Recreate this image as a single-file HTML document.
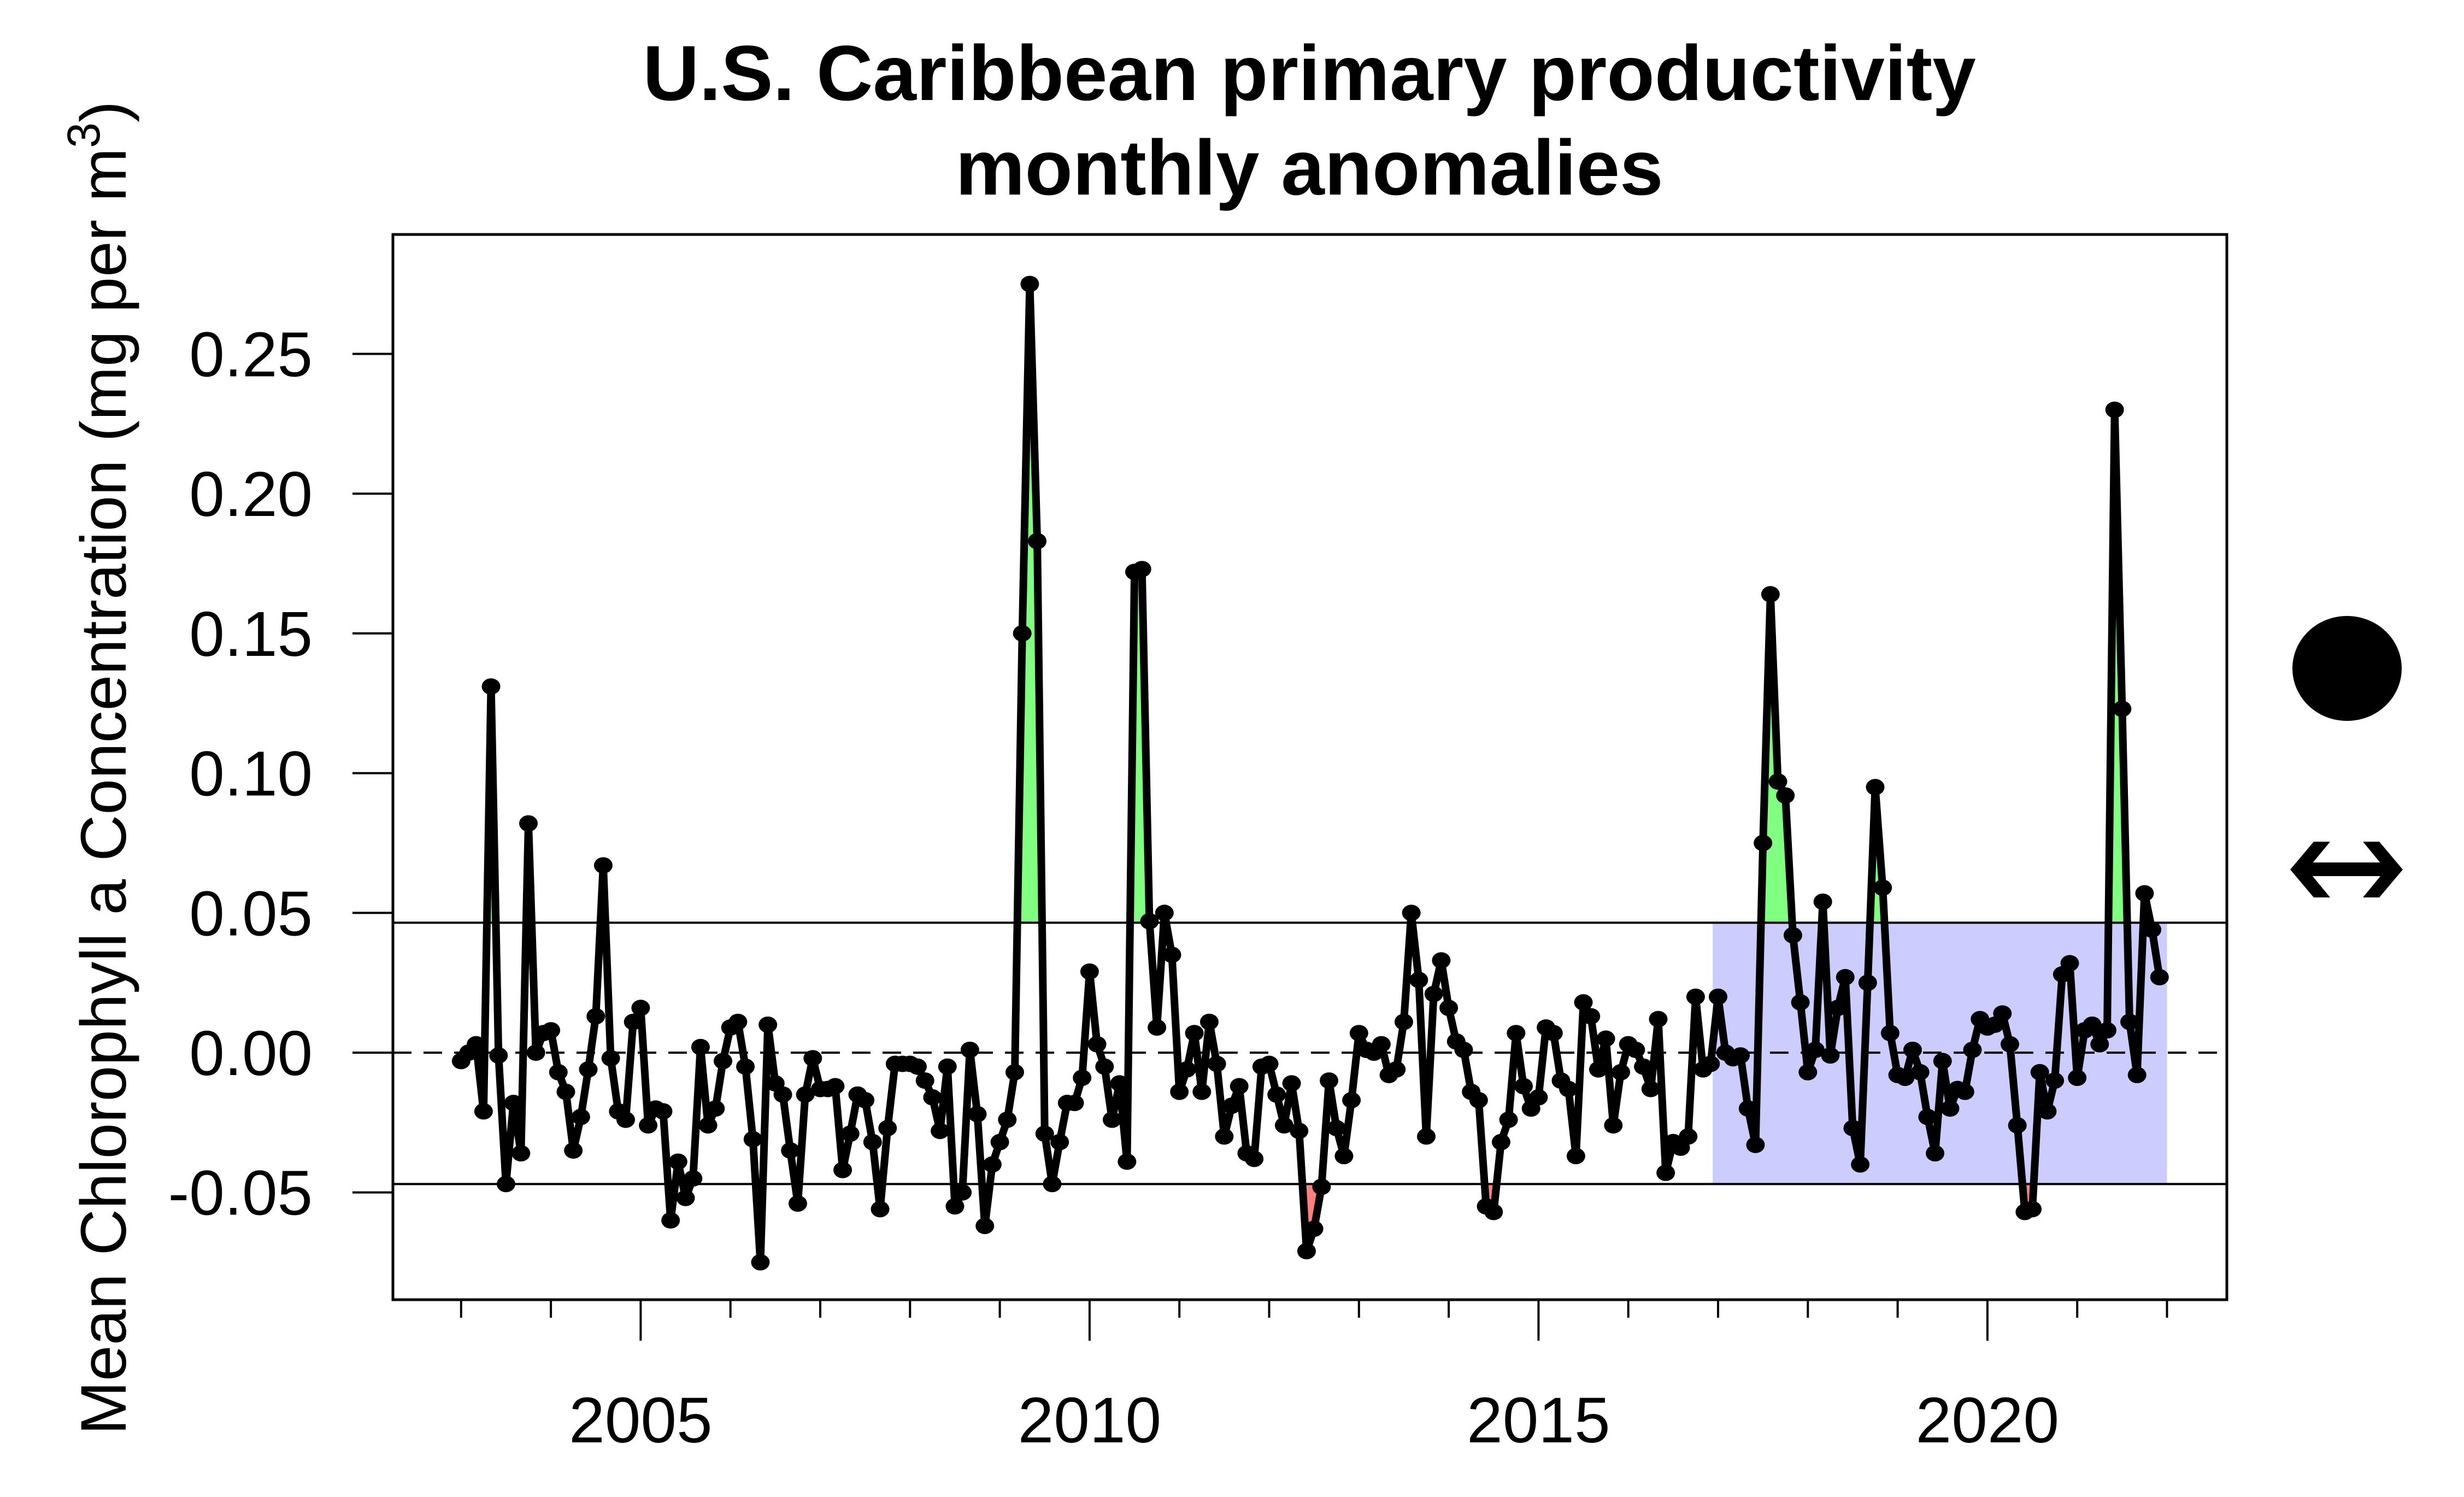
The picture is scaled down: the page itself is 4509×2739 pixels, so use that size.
<!DOCTYPE html>
<html><head><meta charset="utf-8"><style>
html,body{margin:0;padding:0;background:#fff}
svg{display:block}
text{font-family:"Liberation Sans",Arial,sans-serif}
</style></head><body>
<svg id="chart" width="4509" height="2739" viewBox="0 0 4509 2739" xmlns="http://www.w3.org/2000/svg">
<g>
<text x="2396" y="183" font-size="143" font-weight="bold" text-anchor="middle">U.S. Caribbean primary productivity</text>
<text x="2396" y="356" font-size="143" font-weight="bold" text-anchor="middle">monthly anomalies</text>
</g>
<text transform="translate(230,1405) rotate(-90)" font-size="118" text-anchor="middle">Mean Chlorophyll a Concentration (mg per m<tspan font-size="84" dy="-48">3</tspan><tspan dy="48">)</tspan></text>
<g id="layer"></g>
<ellipse cx="4295" cy="1223" rx="100" ry="96" fill="#000"/>
<g fill="#000">
<rect x="4215" y="1578" width="160" height="25"/>
<polygon points="4191,1591 4234,1540 4264,1540 4222,1591 4264,1642 4234,1642"/>
<polygon points="4397,1591 4354,1540 4324,1540 4366,1591 4324,1642 4354,1642"/>
</g>
</svg>
<script>
const years = [2005, 2010, 2015, 2020];
const yTicks = [-0.05, 0, 0.05, 0.10, 0.15, 0.20, 0.25];
const yTickLabels = ["-0.05", "0.00", "0.05", "0.10", "0.15", "0.20", "0.25"];
const startYear = 2003;
const upperThreshold = 0.0465;
const lowerThreshold = -0.047;
const highlightStart = 2016.94;
const highlightEnd = 2022.0;
const anomalies = [
-0.003,0,0.003,-0.021,0.131,-0.001,-0.047,-0.018,-0.036,0.082,0.000,0.007,
0.008,-0.007,-0.014,-0.035,-0.023,-0.006,0.013,0.067,-0.002,-0.021,-0.024,0.011,
0.016,-0.026,-0.020,-0.021,-0.060,-0.039,-0.052,-0.045,0.002,-0.026,-0.020,-0.003,
0.009,0.011,-0.005,-0.031,-0.075,0.010,-0.011,-0.015,-0.035,-0.054,-0.015,-0.002,
-0.013,-0.013,-0.012,-0.042,-0.029,-0.015,-0.017,-0.032,-0.056,-0.027,-0.004,-0.004,
-0.004,-0.005,-0.010,-0.016,-0.028,-0.005,-0.055,-0.050,0.001,-0.022,-0.062,-0.040,
-0.032,-0.024,-0.007,0.150,0.275,
0.183,-0.029,-0.047,-0.032,-0.018,-0.018,-0.009,0.029,0.003,-0.005,
-0.024,-0.011,-0.039,0.172,0.173,0.047,0.009,0.050,0.035,-0.014,
-0.006,0.007,-0.014,0.011,-0.004,-0.030,-0.019,-0.012,-0.036,-0.038,
-0.005,-0.004,-0.015,-0.026,-0.011,-0.028,-0.071,-0.063,-0.048,-0.010,
-0.027,-0.037,-0.017,0.007,0.001,0.000,0.003,-0.008,-0.006,0.011,
0.050,0.026,-0.030,0.021,0.033,0.016,0.004,0.001,-0.014,-0.017,
-0.055,-0.057,-0.032,-0.024,0.007,-0.012,-0.020,-0.016,0.009,0.007,
-0.010,-0.013,-0.037,0.018,0.013,-0.006,0.005,-0.026,-0.007,0.003,
0.001,-0.005,-0.013,0.012,-0.043,
-0.032,-0.034,-0.030,0.020,-0.006,-0.004,0.020,0.000,-0.002,-0.001,
-0.020,-0.033,0.075,0.164,0.097,0.092,0.042,0.018,-0.007,0.001,
0.054,-0.001,0.016,0.027,-0.027,-0.040,0.025,0.095,0.059,0.007,
-0.008,-0.009,0.001,-0.007,-0.023,-0.036,-0.003,-0.020,-0.013,-0.014,
0.001,0.012,0.009,0.010,0.014,0.003,-0.026,-0.057,-0.056,-0.007,
-0.021,-0.010,0.028,0.032,-0.009,0.008,0.010,0.003,0.008,0.230,
0.123,0.011,-0.008,0.057,0.044,0.027
];
const NS = "http://www.w3.org/2000/svg";
const L = 719, R = 4075, T = 429, B = 2378;
function xs(t){ return 843.8 + (t - 2003) * 164.3; }
function ys(v){ return 1926 - v * 5114; }
function mk(tag, attrs, parent){ const e = document.createElementNS(NS, tag); for (const k in attrs) e.setAttribute(k, attrs[k]); parent.appendChild(e); return e; }
const layer = document.getElementById('layer');
const yu = ys(upperThreshold), yl = ys(lowerThreshold);

const hl = mk('rect', {x: xs(highlightStart), y: yu, width: xs(highlightEnd) - xs(highlightStart), height: yl - yu, fill: '#ccccff'}, layer);



const pts = anomalies.map((v, i) => [xs(startYear + i / 12), ys(v)]);
const defs = mk('defs', {}, layer);
const cu = mk('clipPath', {id: 'clipUp'}, defs); mk('rect', {x: 0, y: 0, width: 4509, height: yu}, cu);
const cl = mk('clipPath', {id: 'clipLo'}, defs); mk('rect', {x: 0, y: yl, width: 4509, height: 2739 - yl}, cl);
const ptsStr = pts.map(p => p[0].toFixed(1) + ',' + p[1].toFixed(1)).join(' ');
const x0 = pts[0][0].toFixed(1), x1 = pts[pts.length - 1][0].toFixed(1);
const gf = mk('polygon', {points: x0 + ',' + yu + ' ' + ptsStr + ' ' + x1 + ',' + yu, fill: '#80ff80', 'clip-path': 'url(#clipUp)'}, layer);


const rf = mk('polygon', {points: x0 + ',' + yl + ' ' + ptsStr + ' ' + x1 + ',' + yl, fill: '#ff8080', 'clip-path': 'url(#clipLo)'}, layer);



const ut = mk('line', {x1: L, x2: R, y1: yu, y2: yu, stroke: '#000', 'stroke-width': 4}, layer);


const lt = mk('line', {x1: L, x2: R, y1: yl, y2: yl, stroke: '#000', 'stroke-width': 4}, layer);


const zl = mk('line', {x1: L, x2: R, y1: ys(0), y2: ys(0), stroke: '#000', 'stroke-width': 4, 'stroke-dasharray': '34,22'}, layer);



const line = mk('polyline', {points: ptsStr, fill: 'none', stroke: '#000', 'stroke-width': 14, 'stroke-linejoin': 'round'}, layer);


pts.forEach(p => {
  const c = mk('ellipse', {cx: p[0], cy: p[1], rx: 17, ry: 15, fill: '#000'}, layer);
  
  
});

const box = mk('rect', {x: L, y: T, width: R - L, height: B - T, fill: 'none', stroke: '#000', 'stroke-width': 5}, layer);



yTicks.forEach((v, i) => {
  const tk = mk('line', {x1: 645, x2: L, y1: ys(v), y2: ys(v), stroke: '#000', 'stroke-width': 4}, layer);
  
  
  const tx = mk('text', {x: 572, y: ys(v) + 41, 'font-size': 116, 'text-anchor': 'end'}, layer);
  tx.textContent = yTickLabels[i];
  
  
});
for (let yr = 2003; yr <= 2022; yr++) {
  const major = years.indexOf(yr) >= 0;
  const tk = mk('line', {x1: xs(yr), x2: xs(yr), y1: B, y2: major ? 2453 : 2411, stroke: '#000', 'stroke-width': 4}, layer);
  
  
}
years.forEach(yr => {
  const tx = mk('text', {x: xs(yr), y: 2639, 'font-size': 118, 'text-anchor': 'middle'}, layer);
  tx.textContent = String(yr);
  
  
});
</script>
</body></html>
